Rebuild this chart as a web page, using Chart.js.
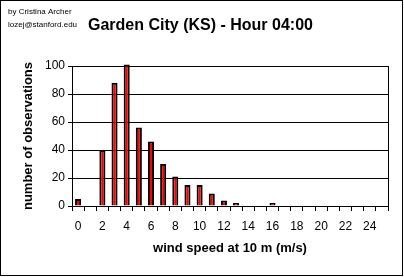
<!DOCTYPE html>
<html><head><meta charset="utf-8">
<script src="https://cdn.jsdelivr.net/npm/chart.js@4"></script>
<style>html,body{margin:0;padding:0;background:#fff;}#wrap{width:404px;height:277px;position:relative;}</style>
</head><body><div id="wrap"><canvas id="c" width="404" height="277"></canvas></div>
<script>
const windSpeeds = ['0','1','2','3','4','5','6','7','8','9','10','11','12','13','14','15','16','17','18','19','20','21','22','23','24','25'];
const observations = [5,0,40,88,101,56,46,30,21,15,15,9,4,1,0,0,1,0,0,0,0,0,0,0,0,0];
const yTicks = [0,20,40,60,80,100];
const titleText = 'Garden City (KS) - Hour 04:00';
const creditLines = ['by Cristina Archer','lozej@stanford.edu'];
const xTitle = 'wind speed at 10 m (m/s)';
const yTitle = 'number of observations';

const F = 'Arial, "Liberation Sans", sans-serif';
const textPlugin = {
  id:'texts',
  afterDraw(chart){
    const ctx = chart.ctx, a = chart.chartArea;
    ctx.save();
    ctx.fillStyle = '#000';
    ctx.font = 'bold 16px ' + F;
    ctx.textAlign = 'left'; ctx.textBaseline = 'alphabetic';
    ctx.fillText(titleText, 88, 30);
    ctx.font = '8px ' + F;
    ctx.fillText(creditLines[0], 8, 14);
    ctx.fillText(creditLines[1], 8, 27);
    ctx.font = 'bold 13px ' + F;
    ctx.textAlign = 'center'; ctx.textBaseline = 'middle';
    ctx.fillText(xTitle, (a.left + a.right)/2, 248);
    ctx.translate(28, (a.top + a.bottom)/2);
    ctx.rotate(-Math.PI/2);
    ctx.fillText(yTitle, 0, 0);
    ctx.restore();
    ctx.save();
    ctx.strokeStyle = '#000'; ctx.lineWidth = 1;
    ctx.beginPath();
    ctx.moveTo(Math.round(a.right)+0.5, a.top); ctx.lineTo(Math.round(a.right)+0.5, a.bottom);
    ctx.stroke();
    ctx.strokeRect(0.5, 0.5, 402, 275);
    ctx.restore();
  }
};

new Chart(document.getElementById('c'), {
  type:'bar',
  data:{ labels: windSpeeds, datasets:[{ data: observations.map(v => v === 0 ? null : v), backgroundColor:'#ff0000', borderColor:'#000', borderWidth:2, minBarLength:3, barPercentage:0.5, categoryPercentage:1.0, clip:false }]},
  options:{
    responsive:false, animation:false, devicePixelRatio:1,
    layout:{ padding:{ left:0, right:16, top:66, bottom:0 } },
    plugins:{ legend:{display:false}, title:{display:false}, tooltip:{enabled:false} },
    scales:{
      x:{
        offset:true,
        grid:{ offset:true, drawOnChartArea:false, drawTicks:true, tickLength:5, color:'#000', lineWidth:1 },
        border:{ color:'#000', width:1 },
        ticks:{ color:'#000', font:{ family:F, size:12 }, padding:8, maxRotation:0, autoSkip:false,
          callback:(v,i)=> (i%2===0 ? windSpeeds[i] : '') },
        afterFit(s){ s.height = 71; }
      },
      y:{
        min:0, max:100,
        afterBuildTicks(s){ s.ticks = yTicks.map(v=>({value:v})); },
        grid:{ color:'#000', lineWidth:1, tickLength:4, drawTicks:true },
        border:{ color:'#000', width:1 },
        ticks:{ color:'#000', font:{ family:F, size:12 }, padding:3 },
        afterFit(s){ s.width = 72; }
      }
    }
  },
  plugins:[textPlugin]
});
</script></body></html>
